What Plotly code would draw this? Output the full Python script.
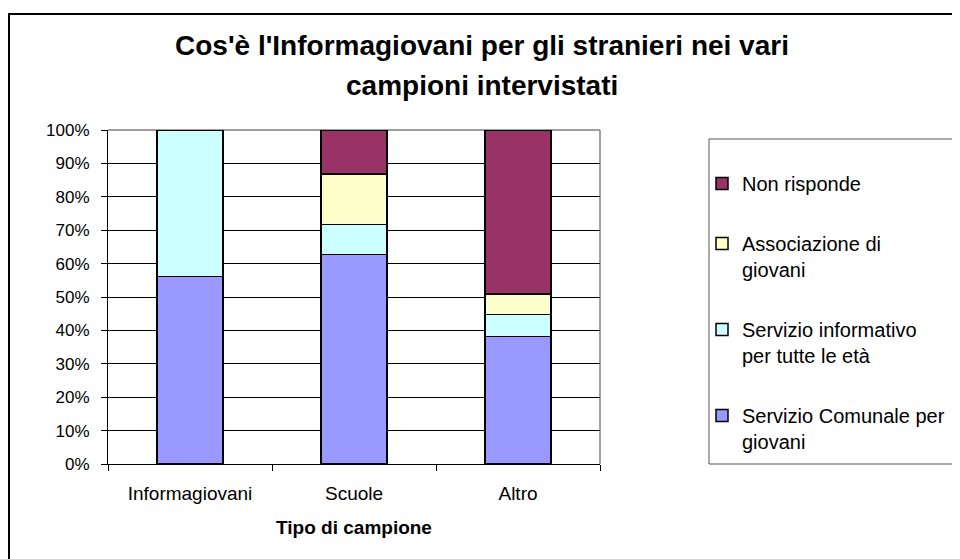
import plotly.graph_objects as go

categories = ["Informagiovani", "Scuole", "Altro"]
servizio_comunale = [56.2, 62.7, 38.2]
servizio_informativo = [43.8, 9.0, 6.5]
associazione = [0, 15.2, 6.2]
non_risponde = [0, 13.1, 49.1]

series_names = [
    "Servizio Comunale per<br>giovani",
    "Servizio informativo<br>per tutte le età",
    "Associazione di<br>giovani",
    "Non risponde",
]
series_values = [servizio_comunale, servizio_informativo, associazione, non_risponde]
colors = ["#9999FF", "#CCFFFF", "#FFFFCC", "#993366"]

y_ticks = list(range(0, 101, 10))
y_tick_labels = [f"{v}%" for v in y_ticks]

# page body has an 8px margin: figure coords = screen coords - 8
OFF = 8
W, H = 960, 559
L, R, T, B = 108 - OFF, 600 - OFF, 130 - OFF, 464 - OFF
pw, ph = R - L, B - T

def px_x(p):
    return (p - OFF - L) / pw

def px_y(p):
    return (B - (p - OFF)) / ph

FONT = "Liberation Sans, Arial, sans-serif"

fig = go.Figure()
n = len(series_names)
for i, (name, vals, col) in enumerate(zip(series_names, series_values, colors)):
    fig.add_trace(go.Bar(
        x=categories, y=vals, name=name,
        marker=dict(color=col, line=dict(color="black", width=1.5)),
        legendgroup=f"g{i}", legendrank=n - i,
    ))

fig.update_layout(
    width=W, height=H,
    barmode="stack", bargap=0.6,
    paper_bgcolor="white", plot_bgcolor="white",
    margin=dict(l=L, r=W - R, t=T, b=H - B, pad=0),
    font=dict(family=FONT, size=16, color="black"),
    showlegend=True,
    legend=dict(
        x=px_x(702), xanchor="left", y=px_y(164), yanchor="top",
        traceorder="grouped", tracegroupgap=31,
        valign="top", bgcolor="rgba(0,0,0,0)",
        font=dict(family=FONT, size=20, color="black"),
    ),
    xaxis=dict(
        range=[-0.5, 2.5], showline=True, linecolor="black", linewidth=1,
        ticks="outside", tickson="boundaries", ticklen=6, tickcolor="black",
        showgrid=False, tickfont=dict(size=19), ticklabelstandoff=12,
        title=dict(text="<b>Tipo di campione</b>", font=dict(size=19), standoff=17),
    ),
    yaxis=dict(
        range=[0, 100], tickvals=y_ticks, ticktext=y_tick_labels,
        showline=True, linecolor="black", linewidth=1,
        ticks="outside", ticklen=6, tickcolor="black",
        showgrid=True, gridcolor="black", gridwidth=1,
        tickfont=dict(size=17), ticklabelstandoff=8,
        zeroline=False,
    ),
    shapes=[
        # outer chart border
        dict(type="rect", xref="paper", yref="paper",
             x0=px_x(9), x1=px_x(975), y0=px_y(575), y1=px_y(14),
             line=dict(color="black", width=2), layer="below"),
        # plot area top / right border (gray)
        dict(type="line", xref="paper", yref="paper",
             x0=0, x1=1, y0=1, y1=1, line=dict(color="#808080", width=1.5), layer="between"),
        dict(type="line", xref="paper", yref="paper",
             x0=1, x1=1, y0=0, y1=1, line=dict(color="#808080", width=1.5), layer="between"),
        # legend box
        dict(type="rect", xref="paper", yref="paper",
             x0=px_x(709), x1=px_x(959), y0=px_y(464), y1=px_y(139),
             line=dict(color="#555555", width=1), layer="below"),
    ],
    annotations=[
        dict(text="<b>Cos'è l'Informagiovani per gli stranieri nei vari</b>",
             xref="paper", yref="paper", x=px_x(482), y=px_y(45),
             xanchor="center", yanchor="middle", showarrow=False,
             font=dict(family=FONT, size=28, color="black")),
        dict(text="<b>campioni intervistati</b>",
             xref="paper", yref="paper", x=px_x(482), y=px_y(85),
             xanchor="center", yanchor="middle", showarrow=False,
             font=dict(family=FONT, size=28, color="black")),
    ],
)

fig.write_html("out.html")
